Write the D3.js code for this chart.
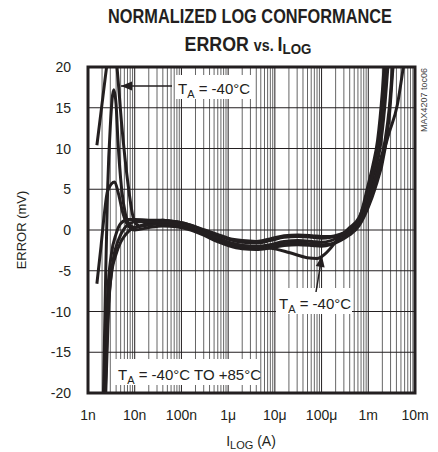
<!DOCTYPE html>
<html><head><meta charset="utf-8">
<script src="https://cdn.jsdelivr.net/npm/d3@7/dist/d3.min.js"></script>
<style>
html,body{margin:0;padding:0;background:#fff;}
svg text{font-family:"Liberation Sans",Arial,sans-serif;fill:#231f20;}
</style></head>
<body><svg id="c" width="438" height="452"></svg>
<script>
// ---- data ----
const xTickValues = [1e-9, 1e-8, 1e-7, 1e-6, 1e-5, 1e-4, 1e-3, 1e-2];
const xTickLabels = ["1n", "10n", "100n", "1\u03bc", "10\u03bc", "100\u03bc", "1m", "10m"];
const yTickValues = [20, 15, 10, 5, 0, -5, -10, -15, -20];
const yTickLabels = ["20", "15", "10", "5", "0", "-5", "-10", "-15", "-20"];

// current (A), error (mV)
const curve1 = [[1.55e-9,10.4],[2.0e-9,15.5],[2.57e-9,20.5],[3.16e-9,24],[3.55e-9,23.5],[4.17e-9,20],[5.25e-9,13],[7.24e-9,5.5],[8.91e-9,2],[10e-9,1.0],[12.6e-9,0.5],[20e-9,0.7],[40e-9,0.9],[79e-9,0.7],[158e-9,0.3],[316e-9,-0.4],[631e-9,-1.1],[1e-6,-1.5],[2e-6,-1.9],[4e-6,-2.0],[7.9e-6,-1.8],[15.8e-6,-1.4],[31.6e-6,-1.3],[63e-6,-1.4],[100e-6,-1.5],[158e-6,-1.3],[251e-6,-0.8],[398e-6,-0.2],[631e-6,1.0],[1e-3,4.0],[1.26e-3,6.5],[1.78e-3,10],[2.24e-3,15],[2.63e-3,20],[2.82e-3,22]];
const curve2 = [[2.14e-9,-20],[2.4e-9,-5],[2.63e-9,5],[3.02e-9,13],[3.55e-9,17.2],[3.98e-9,15.5],[4.37e-9,11],[5.25e-9,5],[6.31e-9,2],[7.94e-9,0.6],[10e-9,0.3],[20e-9,0.9],[40e-9,1.2],[79e-9,1.0],[158e-9,0.6],[316e-9,-0.1],[631e-9,-0.7],[1e-6,-1.1],[2e-6,-1.5],[4e-6,-1.6],[7.9e-6,-1.3],[15.8e-6,-0.9],[31.6e-6,-0.8],[63e-6,-0.9],[100e-6,-1.0],[158e-6,-0.9],[251e-6,-0.6],[398e-6,0.0],[631e-6,1.3],[1e-3,5.6],[1.26e-3,8.0],[1.58e-3,11],[2e-3,17],[2.24e-3,21]];
const curve3 = [[1.55e-9,-6.6],[1.9e-9,-2],[2.24e-9,2],[2.63e-9,4.8],[3.72e-9,5.9],[4.47e-9,4.5],[5.62e-9,2],[7.08e-9,0.6],[10e-9,0.0],[20e-9,0.3],[40e-9,0.5],[79e-9,0.4],[158e-9,0.0],[316e-9,-0.7],[631e-9,-1.5],[1e-6,-1.9],[2e-6,-2.3],[4e-6,-2.4],[7.9e-6,-2.2],[15.8e-6,-1.9],[31.6e-6,-1.8],[63e-6,-1.9],[100e-6,-2.0],[158e-6,-1.8],[251e-6,-1.3],[398e-6,-0.6],[631e-6,0.5],[1e-3,2.8],[1.38e-3,5],[2.29e-3,10],[2.82e-3,14],[3.39e-3,20],[3.63e-3,22]];
const curve4 = [[2.29e-9,-20],[2.63e-9,-8],[3.16e-9,-3],[3.98e-9,-0.5],[5.01e-9,0.8],[7.08e-9,1.3],[10e-9,1.3],[20e-9,1.2],[40e-9,1.2],[79e-9,1.0],[158e-9,0.6],[316e-9,0.0],[631e-9,-0.6],[1e-6,-1.0],[2e-6,-1.3],[4e-6,-1.4],[7.9e-6,-1.1],[15.8e-6,-0.7],[31.6e-6,-0.6],[63e-6,-0.7],[100e-6,-0.8],[158e-6,-0.8],[251e-6,-0.5],[398e-6,0.0],[631e-6,0.8],[1e-3,3.5],[1.58e-3,7.5],[2.29e-3,11],[2.82e-3,15],[3.31e-3,20],[3.55e-3,22]];
const curve5 = [[2.34e-9,-20],[2.63e-9,-11],[3.16e-9,-5.5],[3.98e-9,-3],[5.01e-9,-1.5],[6.31e-9,-0.6],[7.94e-9,0],[10e-9,0.3],[20e-9,0.6],[40e-9,0.8],[79e-9,0.6],[158e-9,0.2],[316e-9,-0.5],[631e-9,-1.2],[1e-6,-1.7],[2e-6,-2.1],[4e-6,-2.2],[7.9e-6,-2.0],[15.8e-6,-1.7],[31.6e-6,-1.6],[63e-6,-1.7],[100e-6,-1.8],[158e-6,-1.7],[251e-6,-1.2],[398e-6,-0.3],[631e-6,1.0],[1e-3,3],[1.78e-3,8],[2.82e-3,12],[4.17e-3,15.3],[5.62e-3,20],[6.3e-3,22]];
const curve6 = [[2.4e-9,-20],[2.8e-9,-9],[3.5e-9,-3.5],[4.5e-9,-1.2],[6e-9,0.2],[8e-9,0.8],[10e-9,1.0],[20e-9,1.0],[40e-9,1.0],[79e-9,0.8],[158e-9,0.4],[316e-9,-0.3],[631e-9,-1.0],[1e-6,-1.5],[2e-6,-1.9],[4e-6,-2.1],[7.9e-6,-2.2],[21e-6,-2.8],[49e-6,-3.4],[80e-6,-3.5],[126e-6,-2.8],[251e-6,-0.8],[398e-6,0.3],[631e-6,1.5],[1e-3,4.8],[1.26e-3,7],[1.58e-3,10],[2e-3,14],[2.4e-3,20],[2.6e-3,22]];
const curves = [curve1, curve2, curve3, curve4, curve5, curve6];

// ---- drawing ----
const svg = d3.select("#c");
const L = 88, R = 415, T = 67, B = 393;
const x = d3.scaleLog().domain([1e-9, 1e-2]).range([L, R]);
const y = d3.scaleLinear().domain([-20, 20]).range([B, T]);
const ink = "#231f20";

// title (condensed by horizontal scaling to the reference width)
function fitText(sel, cx, cy, target) {
  const w = sel.node().getComputedTextLength();
  sel.attr("transform", `translate(${cx},${cy}) scale(${target / w},1)`);
}
const t1 = svg.append("text").attr("text-anchor", "middle")
  .attr("font-size", 20).attr("font-weight", "bold").text("NORMALIZED LOG CONFORMANCE");
fitText(t1, 250, 23, 284);
const t2 = svg.append("text").attr("text-anchor", "middle")
  .attr("font-size", 20).attr("font-weight", "bold");
t2.append("tspan").text("ERROR ");
t2.append("tspan").attr("font-size", 16).text("vs. ");
t2.append("tspan").text("I");
t2.append("tspan").attr("font-size", 15).attr("dy", 3).text("LOG");
fitText(t2, 248, 51, 127);

// grid
const minor = [];
for (let e = -9; e < -2; e++) for (let k = 2; k <= 9; k++) minor.push(k * Math.pow(10, e));
const g = svg.append("g");
g.selectAll("line.mn").data(minor).join("line")
  .attr("x1", d => x(d)).attr("x2", d => x(d)).attr("y1", T).attr("y2", B)
  .attr("stroke", "#666").attr("stroke-width", 1);
g.selectAll("line.mj").data(xTickValues.slice(1, -1)).join("line")
  .attr("x1", d => x(d)).attr("x2", d => x(d)).attr("y1", T).attr("y2", B)
  .attr("stroke", ink).attr("stroke-width", 1);
g.selectAll("line.h").data(yTickValues.slice(1, -1)).join("line")
  .attr("x1", L).attr("x2", R).attr("y1", d => y(d)).attr("y2", d => y(d))
  .attr("stroke", ink).attr("stroke-width", 1.2);

// curves
svg.append("clipPath").attr("id", "clip").append("rect")
  .attr("x", L).attr("y", T).attr("width", R - L).attr("height", B - T);
const line = d3.line().x(d => x(d[0])).y(d => y(d[1])).curve(d3.curveMonotoneX);
svg.append("g").attr("clip-path", "url(#clip)").selectAll("path").data(curves).join("path")
  .attr("d", line).attr("fill", "none").attr("stroke", ink).attr("stroke-width", 3)
  .attr("stroke-linejoin", "round");

// axes tick labels
svg.append("g").selectAll("text").data(yTickValues).join("text")
  .attr("x", 71).attr("y", d => y(d) + 5).attr("text-anchor", "end").attr("font-size", 14)
  .text((d, i) => yTickLabels[i]);
svg.append("g").selectAll("text").data(xTickValues).join("text")
  .attr("x", d => x(d)).attr("y", 420).attr("text-anchor", "middle").attr("font-size", 14)
  .text((d, i) => xTickLabels[i]);

// axis titles
svg.append("text").attr("transform", "translate(26,230) rotate(-90)").attr("text-anchor", "middle")
  .attr("font-size", 13).text("ERROR (mV)");
const xl = svg.append("text").attr("x", 251).attr("y", 446).attr("text-anchor", "middle").attr("font-size", 14);
xl.append("tspan").text("I");
xl.append("tspan").attr("font-size", 11).attr("dy", 3).text("LOG");
xl.append("tspan").attr("dy", -3).text(" (A)");

svg.append("text").attr("transform", "translate(427,68) rotate(-90)").attr("text-anchor", "end")
  .attr("font-size", 9).style("fill", "#444").text("MAX4207 toc06");

// annotations
function label(xp, yp, w, h, parts) {
  svg.append("rect").attr("x", xp - 3).attr("y", yp - h + 5).attr("width", w).attr("height", h).attr("fill", "#fff");
  const t = svg.append("text").attr("x", xp).attr("y", yp).attr("font-size", 15);
  t.append("tspan").text("T");
  t.append("tspan").attr("font-size", 11).attr("dy", 4).text("A");
  t.append("tspan").attr("dy", -4).text(parts);
}
function arrow(x1, y1, x2, y2) {
  svg.append("line").attr("x1", x1).attr("y1", y1).attr("x2", x2).attr("y2", y2)
    .attr("stroke", ink).attr("stroke-width", 1.5);
  const a = Math.atan2(y2 - y1, x2 - x1), len = 11, wd = 4.5;
  const bx = x2 - len * Math.cos(a), by = y2 - len * Math.sin(a);
  const px = -Math.sin(a) * wd, py = Math.cos(a) * wd;
  svg.append("path").attr("d", `M${x2},${y2}L${bx + px},${by + py}L${bx - px},${by - py}Z`).attr("fill", ink);
}
label(178, 94, 76, 24, " = -40\u00b0C");
arrow(172, 86, 121, 86);
label(279, 309, 76, 26, " = -40\u00b0C");
arrow(316, 292, 322, 256);
label(118, 380, 145, 26, " = -40\u00b0C TO +85\u00b0C");

// frame
svg.append("rect").attr("x", L).attr("y", T).attr("width", R - L).attr("height", B - T)
  .attr("fill", "none").attr("stroke", ink).attr("stroke-width", 3);
</script></body></html>
